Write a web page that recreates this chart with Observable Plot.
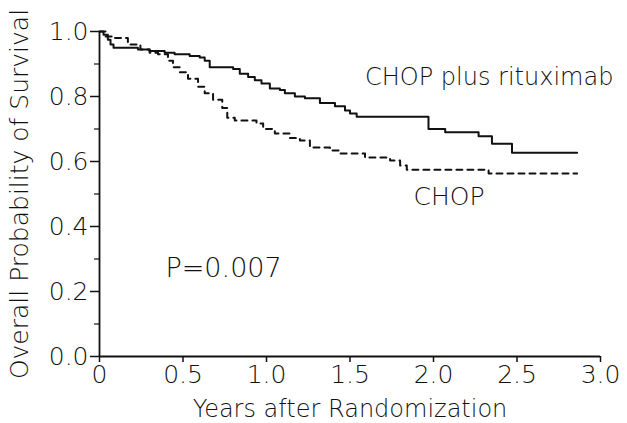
<!DOCTYPE html>
<html>
<head>
<meta charset="utf-8">
<script src="https://cdn.jsdelivr.net/npm/d3@7"></script>
<script src="https://cdn.jsdelivr.net/npm/@observablehq/plot@0.6"></script>
<style>
  html, body { margin: 0; padding: 0; background: #fff; }
  #chart svg { display: block; }
</style>
</head>
<body>
<div id="chart"></div>
<script>
// ---- data (years, survival probability) ----
const rchopYears = [0, 0.024, 0.05, 0.066, 0.084, 0.23, 0.30, 0.39, 0.45, 0.54, 0.60, 0.63, 0.66, 0.80, 0.84, 0.89, 0.93, 0.97, 1.02, 1.08, 1.11, 1.17, 1.23, 1.32, 1.41, 1.47, 1.50, 1.54, 1.97, 2.07, 2.27, 2.35, 2.47, 2.86];
const rchopSurv  = [1.0, 0.99, 0.975, 0.96, 0.95, 0.945, 0.94, 0.935, 0.93, 0.925, 0.92, 0.91, 0.89, 0.885, 0.87, 0.86, 0.85, 0.84, 0.825, 0.82, 0.81, 0.80, 0.795, 0.78, 0.77, 0.757, 0.748, 0.738, 0.70, 0.69, 0.678, 0.655, 0.627, 0.627];

const chopYears = [0, 0.036, 0.08, 0.17, 0.245, 0.30, 0.35, 0.41, 0.44, 0.48, 0.53, 0.59, 0.63, 0.68, 0.735, 0.765, 0.81, 0.94, 0.98, 1.05, 1.14, 1.20, 1.26, 1.38, 1.44, 1.59, 1.74, 1.80, 1.84, 2.33, 2.86];
const chopSurv  = [1.0, 0.985, 0.98, 0.96, 0.945, 0.935, 0.93, 0.91, 0.89, 0.875, 0.855, 0.83, 0.81, 0.79, 0.765, 0.735, 0.726, 0.717, 0.70, 0.686, 0.672, 0.665, 0.643, 0.634, 0.625, 0.612, 0.603, 0.588, 0.575, 0.563, 0.563];

const xTicks = [0, 0.5, 1.0, 1.5, 2.0, 2.5, 3.0];
const xTickLabels = ["0", "0.5", "1.0", "1.5", "2.0", "2.5", "3.0"];
const yTicks = [0, 0.2, 0.4, 0.6, 0.8, 1.0];
const yTickLabels = ["0.0", "0.2", "0.4", "0.6", "0.8", "1.0"];
const yMinorTicks = [0.1, 0.3, 0.5, 0.7, 0.9];

const xTitle = "Years after Randomization";
const yTitle = "Overall Probability of Survival";

const labelTexts = ["CHOP plus rituximab", "CHOP", "P=0.007"];
const labelYears = [1.59, 1.88, 0.395];
const labelSurv  = [0.858, 0.49, 0.27];
const labelSizes = [24, 25, 27];

// ---- build tables ----
const rchop = rchopYears.map((t, i) => ({t, s: rchopSurv[i]}));
const chop  = chopYears.map((t, i) => ({t, s: chopSurv[i]}));
const labels = labelTexts.map((text, i) => ({text, t: labelYears[i], s: labelSurv[i], size: labelSizes[i]}));

const FONT = "'DejaVu Sans', sans-serif";

const chart = Plot.plot({
  width: 627,
  height: 423,
  marginLeft: 99,
  marginRight: 27,
  marginTop: 31,
  marginBottom: 67,
  style: { fontFamily: FONT, fontWeight: 200, background: "#fff", color: "#111" },
  x: { domain: [0, 3] },
  y: { domain: [0, 1] },
  marks: [
    Plot.axisY({
      ticks: yTicks,
      tickFormat: (d) => yTickLabels[yTicks.indexOf(d)],
      tickSize: 9,
      tickPadding: 2,
      fontSize: 25,
      strokeWidth: 1.5,
      label: null
    }),
    Plot.axisY({ ticks: yMinorTicks, tickSize: 5, tickFormat: () => "", label: null, strokeWidth: 1.2 }),
    Plot.axisX({
      ticks: xTicks,
      tickFormat: (d) => xTickLabels[xTicks.indexOf(d)],
      tickSize: 6,
      tickPadding: 3,
      fontSize: 25,
      strokeWidth: 1.5,
      label: null
    }),
    Plot.text([yTitle], { frameAnchor: "left", rotate: -90, dx: -80, textAnchor: "middle", lineAnchor: "middle", fontSize: 25, fill: "#111", text: (d) => d }),
    Plot.text([xTitle], { frameAnchor: "bottom", dy: 53, textAnchor: "middle", lineAnchor: "middle", fontSize: 24, fill: "#111", text: (d) => d }),
    Plot.ruleX([0], { stroke: "#111", strokeWidth: 1.8 }),
    Plot.ruleY([0], { stroke: "#111", strokeWidth: 1.8 }),
    Plot.line(rchop, { x: "t", y: "s", curve: "step-after", stroke: "#111", strokeWidth: 2 }),
    Plot.line(chop, { x: "t", y: "s", curve: "step-after", stroke: "#111", strokeWidth: 2, strokeDasharray: "6,5" }),
    Plot.text(labels, { x: "t", y: "s", text: "text", textAnchor: "start", fontSize: "size", fill: "#111" })
  ]
});

document.getElementById("chart").appendChild(chart);
</script>
</body>
</html>
